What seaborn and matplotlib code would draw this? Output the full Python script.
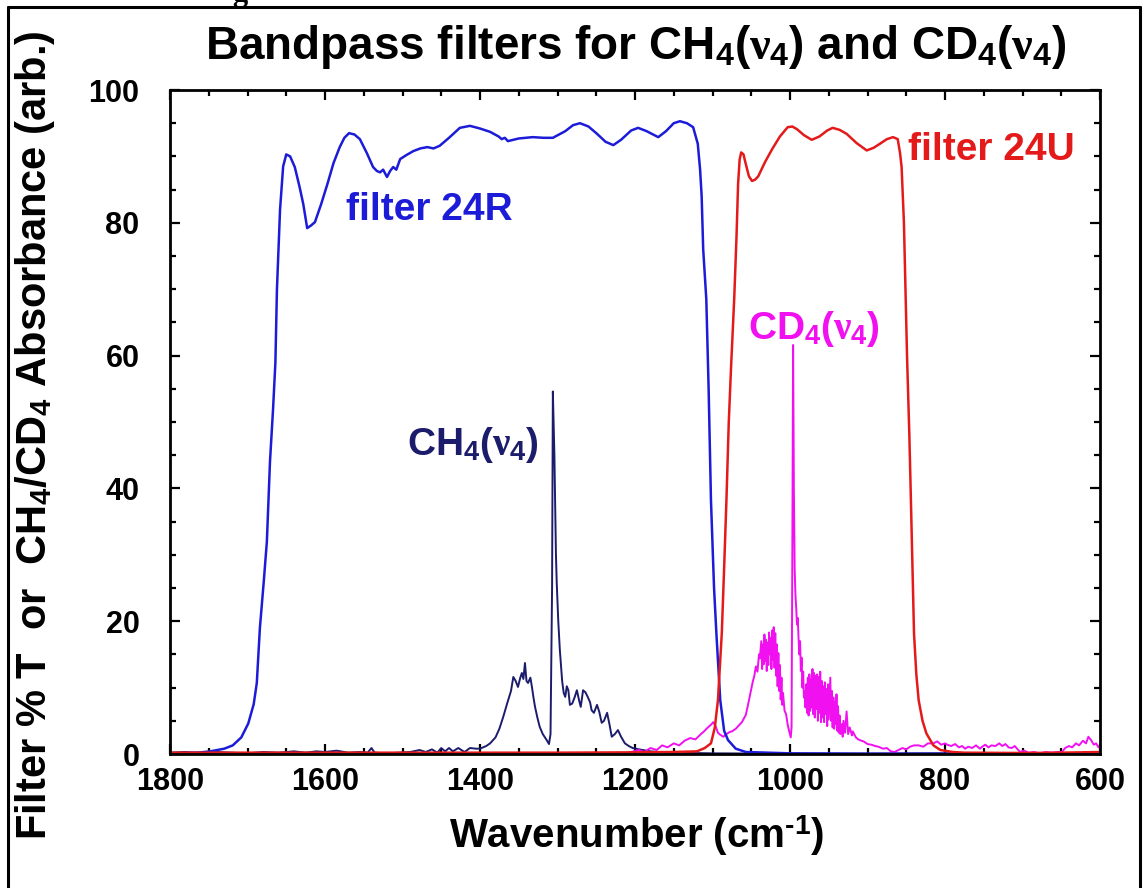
import numpy as np
import pandas as pd
import matplotlib
matplotlib.use("Agg")
import matplotlib.pyplot as plt
from matplotlib.lines import Line2D
from matplotlib.ticker import MultipleLocator
import seaborn as sns

# ---------------- data ----------------
# filter 24R transmission (%)
wn_24r = [1800, 1780, 1760, 1748, 1730, 1719, 1708, 1699, 1692, 1688, 1684, 1679, 1675, 1671,
          1667, 1664, 1662, 1658, 1654, 1650, 1645, 1639, 1633, 1628, 1623, 1618, 1613, 1605,
          1597, 1589, 1581, 1575, 1569, 1562, 1555, 1546, 1538, 1533, 1529, 1525, 1520, 1516,
          1512, 1508, 1503, 1495, 1486, 1477, 1468, 1460, 1452, 1440, 1426, 1413, 1400, 1387,
          1376, 1372, 1368, 1364, 1350, 1332, 1318, 1306, 1290, 1280, 1271, 1260, 1249, 1238,
          1228, 1218, 1205, 1196, 1185, 1170, 1160, 1150, 1142, 1133, 1125, 1119, 1116, 1114,
          1112, 1108, 1105, 1102, 1098, 1095, 1090, 1085, 1080, 1070, 1057, 1000, 900, 800, 700, 600]
t_24r = [0.1, 0.15, 0.25, 0.4, 0.8, 1.3, 2.5, 4.6, 7.5, 10.7, 19, 26, 32, 44,
         52, 59, 70, 82, 88.5, 90.3, 90.0, 88.4, 85.5, 82.8, 79.2, 79.6, 80.1, 82.8,
         85.8, 89.0, 91.4, 92.8, 93.5, 93.3, 92.6, 90.5, 88.4, 87.8, 87.6, 88.0, 86.9, 87.8,
         88.4, 88.0, 89.6, 90.2, 90.8, 91.2, 91.4, 91.2, 91.6, 92.8, 94.3, 94.6, 94.2, 93.7,
         93.0, 92.6, 92.8, 92.3, 92.7, 92.9, 92.8, 92.8, 93.8, 94.7, 95.0, 94.5, 93.4, 92.2,
         91.7, 92.5, 93.9, 94.3, 93.8, 92.9, 93.8, 95.0, 95.3, 95.0, 94.4, 91.9, 88.0, 84.0,
         76.0, 68.5, 55.0, 38.3, 25.0, 18.2, 8.1, 3.5, 2.1, 0.8, 0.3, 0.1, 0.05, 0.05, 0.0, 0.0]

# filter 24U transmission (%)
wn_24u = [1800, 1600, 1400, 1300, 1200, 1150, 1120, 1110, 1102, 1097, 1093, 1088, 1085, 1082,
          1079, 1076, 1072, 1069, 1067, 1065, 1063, 1060, 1058, 1053, 1049, 1045, 1041, 1032,
          1023, 1013, 1003, 997, 991, 982, 972, 962, 952, 945, 936, 927, 914, 901, 892, 884,
          875, 867, 861, 858, 856, 853, 851, 849, 846, 844, 840, 837, 834, 829, 824, 815, 806,
          790, 775, 700, 650, 600]
t_24u = [0.2, 0.2, 0.2, 0.2, 0.25, 0.3, 0.4, 0.9, 1.6, 4.0, 8.1, 18.2, 28.0, 38.3,
         50.0, 58.4, 68.5, 78.0, 85.8, 89.5, 90.6, 90.3, 89.3, 87.0, 86.3, 86.5, 87.0, 89.2,
         91.1, 93.0, 94.4, 94.5, 94.1, 93.2, 92.5, 93.0, 93.9, 94.3, 94.0, 93.4, 92.0, 90.9, 91.3, 91.9,
         92.6, 92.9, 92.6, 90.5, 88.4, 80.0, 70.0, 60.0, 48.0, 38.3, 18.2, 12.0, 8.1, 5.0, 3.1, 1.3, 0.6,
         0.3, 0.2, 0.15, 0.2, 0.3]

# CH4(nu4) absorbance (arb.)
wn_ch4 = [1800, 1780, 1760, 1740, 1720, 1700, 1680, 1660, 1640, 1625, 1611, 1600, 1585, 1570,
          1555, 1545, 1540, 1536, 1520, 1505, 1490, 1478, 1470, 1462, 1455, 1450, 1445, 1440,
          1435, 1428, 1420, 1413, 1405, 1400, 1392, 1387, 1380, 1375, 1370, 1365, 1360, 1357,
          1354, 1351, 1348, 1346, 1344, 1342, 1340, 1338, 1335, 1333, 1331, 1329, 1326, 1323,
          1319, 1314, 1311, 1309, 1307, 1306, 1304, 1302, 1301, 1299, 1297, 1294, 1292, 1290,
          1288, 1286, 1284, 1281, 1278, 1275, 1272, 1270, 1267, 1264, 1261, 1258, 1256, 1253,
          1249, 1246, 1243, 1240, 1236, 1233, 1230, 1226, 1222, 1218, 1213, 1208, 1203, 1195,
          1190, 1180, 1170, 1150, 1100, 1000, 900, 800, 700, 600]
a_ch4 = [0.2, 0.3, 0.1, 0.3, 0.2, 0.1, 0.3, 0.2, 0.4, 0.2, 0.4, 0.3, 0.5, 0.2,
         0.3, 0.2, 0.9, 0.2, 0.1, 0.2, 0.3, 0.6, 0.3, 0.7, 0.2, 0.9, 0.4, 0.9,
         0.4, 0.9, 0.3, 0.9, 0.8, 0.8, 1.2, 1.6, 2.5, 3.8, 5.6, 7.6, 9.5, 11.6,
         11.0, 10.1, 11.5, 12.2, 11.3, 13.7, 11.0, 10.7, 11.5, 10.1, 8.5, 7.1, 5.5, 4.1,
         3.0, 2.1, 1.5, 3.0, 25.0, 54.6, 45.0, 30.0, 25.8, 20.0, 15.7, 11.0, 9.2, 8.6,
         10.2, 9.6, 7.4, 7.6, 8.5, 9.6, 8.0, 7.1, 9.6, 9.3, 8.6, 7.8, 6.6, 6.2,
         7.4, 6.3, 4.7, 5.0, 6.2, 4.5, 2.6, 3.0, 3.6, 2.6, 1.6, 1.2, 0.9, 0.7,
         0.6, 0.4, 0.3, 0.2, 0.1, 0.05, 0.05, 0.1, 0.05, 0.05]

# CD4(nu4) absorbance (arb.)
wn_cd4 = [1280, 1260, 1240, 1220, 1205, 1195, 1188, 1180, 1172, 1165, 1158, 1150, 1143, 1136,
          1129, 1122, 1115, 1111, 1106, 1102, 1099, 1096, 1093, 1090, 1086, 1082, 1078, 1075,
          1070, 1066, 1062, 1057, 1054, 1051, 1048, 1046, 1044, 1042, 1040, 1039, 1037, 1036,
          1035, 1034, 1033, 1032, 1031, 1030, 1029, 1028, 1027, 1026, 1025, 1024, 1023, 1022,
          1021, 1020, 1019, 1018, 1017, 1016, 1015, 1014, 1013, 1012, 1011, 1010, 1009, 1007,
          1005, 1003, 1001, 999, 998, 997, 996, 995, 994, 993, 992, 991, 990, 989, 988, 987,
          986, 985, 984, 983, 982, 981, 980, 979, 978, 977, 976, 975, 974, 973, 972, 971, 970,
          969, 968, 967, 966, 965, 964, 963, 962, 961, 960, 959, 958, 957, 956, 955, 954, 953,
          952, 951, 950, 948, 947, 946, 945, 944, 943, 942, 941, 940, 939, 938, 937, 936, 935,
          933, 932, 931, 929, 927, 925, 923, 920, 919, 915, 912, 908, 905, 900, 895, 890, 886,
          880, 875, 870, 865, 860, 855, 850, 845, 840, 834, 828, 822, 815, 810, 805, 800, 797,
          792, 787, 782, 778, 774, 770, 765, 760, 755, 752, 748, 744, 740, 735, 730, 726, 722,
          718, 714, 710, 707, 703, 698, 692, 685, 678, 670, 662, 655, 649, 645, 640, 636, 631,
          627, 622, 618, 615, 613, 611, 608, 605, 602, 600]
a_cd4 = [0.0, -0.2, 0.1, -0.1, 0.3, 0.6, 0.3, 0.9, 0.6, 1.3, 1.0, 1.6, 1.3, 2.0,
         2.4, 2.2, 3.0, 3.4, 4.0, 4.4, 4.8, 4.2, 3.2, 2.9, 2.6, 3.0, 3.3, 3.4,
         3.8, 4.3, 4.8, 5.9, 7.5, 9.2, 10.9, 11.8, 13.2, 12.4, 15.0, 14.4, 17.0, 12.8,
         16.5, 13.5, 18.0, 14.0, 17.2, 12.5, 16.8, 13.4, 18.3, 15.0, 17.5, 12.8, 18.6, 14.2,
         19.1, 13.0, 18.2, 11.8, 16.5, 10.2, 15.2, 9.5, 13.4, 8.2, 11.5, 7.4, 9.2, 6.5,
         6.0, 4.4, 3.4, 2.5, 4.0, 30.0, 61.6, 40.0, 28.0, 24.0, 22.0, 19.5, 20.5, 17.5, 15.0, 17.0,
         12.5, 14.5, 10.0, 12.4, 8.5, 9.4, 7.0, 10.5, 6.2, 11.5, 5.8, 12.0, 6.5, 11.2, 7.0, 12.8, 6.0,
         12.2, 5.5, 11.8, 6.8, 12.0, 5.0, 11.6, 6.2, 12.4, 4.8, 11.0, 5.5, 10.2, 4.8, 10.8, 6.0, 9.8,
         4.2, 10.5, 5.2, 11.5, 5.0, 9.5, 4.0, 8.5, 3.8, 7.8, 4.5, 9.0, 3.5, 7.2, 3.2, 5.8, 3.0,
         4.5, 2.6, 5.0, 3.2, 6.4, 3.0, 4.0, 2.8, 3.4, 2.5, 2.2, 2.0, 1.9, 1.5, 1.4, 1.2, 1.1,
         0.8, 0.9, 0.4, 0.3, 0.6, 0.9, 0.7, 1.1, 1.3, 1.3, 1.1, 1.6, 1.6, 1.9, 1.4, 1.6, 1.4,
         1.2, 1.5, 1.0, 1.2, 0.8, 1.1, 0.9, 1.3, 0.8, 1.1, 1.4, 1.0, 1.3, 1.2, 1.6, 1.2, 1.5,
         1.0, 0.9, 1.2, 0.8, 0.3, 0.5, 0.2, 0.3, 0.1, 0.3, 0.2, 0.3, 0.3, 0.9, 1.2, 1.0, 1.6,
         1.3, 2.0, 1.6, 2.6, 2.3, 2.0, 1.4, 1.6, 1.0, 1.3]

x_ticks = [1800, 1600, 1400, 1200, 1000, 800, 600]
y_ticks = [0, 20, 40, 60, 80, 100]

# ---------------- style ----------------
sns.set_theme(style="ticks")
plt.rcParams["font.family"] = ["Liberation Sans", "DejaVu Sans"]
plt.rcParams["font.weight"] = "bold"
plt.rcParams["text.color"] = "black"
plt.rcParams["axes.labelcolor"] = "black"
plt.rcParams["xtick.color"] = "black"
plt.rcParams["ytick.color"] = "black"
plt.rcParams["mathtext.fontset"] = "custom"
plt.rcParams["mathtext.rm"] = "Liberation Sans:bold"
plt.rcParams["mathtext.bf"] = "Liberation Sans:bold"
plt.rcParams["mathtext.it"] = "Liberation Serif"
plt.rcParams["mathtext.sf"] = "Liberation Sans:bold"

C_BLUE = "#1c1cd8"
C_RED = "#e41a1a"
C_NAVY = "#1c1c6c"
C_MAG = "#f010f0"

fig = plt.figure(figsize=(11.44, 8.88), dpi=100)
fig.patch.set_facecolor("white")
ax = fig.add_axes([170 / 1144, 1 - 754 / 888, 930 / 1144, 664 / 888])
ax.set_facecolor("white")

df_r = pd.DataFrame({"wn": wn_24r, "val": t_24r})
df_u = pd.DataFrame({"wn": wn_24u, "val": t_24u})
df_h = pd.DataFrame({"wn": wn_ch4, "val": a_ch4})
df_d = pd.DataFrame({"wn": wn_cd4, "val": a_cd4})

kw = dict(x="wn", y="val", ax=ax, estimator=None, sort=False, legend=False)
sns.lineplot(data=df_h, color=C_NAVY, lw=1.4, **kw)
sns.lineplot(data=df_d, color=C_MAG, lw=1.4, **kw)
sns.lineplot(data=df_r, color=C_BLUE, lw=1.8, **kw)
sns.lineplot(data=df_u, color=C_RED, lw=1.8, **kw)

ax.set_xlim(1800, 600)
ax.set_ylim(0, 100)
ax.set_xticks(x_ticks)
ax.set_yticks(y_ticks)
ax.set_xticklabels([str(v) for v in x_ticks])
ax.set_yticklabels([str(v) for v in y_ticks])
ax.xaxis.set_minor_locator(MultipleLocator(50))
ax.yaxis.set_minor_locator(MultipleLocator(5))
ax.set_xlabel("")
ax.set_ylabel("")

for s in ax.spines.values():
    s.set_visible(True)
    s.set_linewidth(2.0)
    s.set_color("black")
ax.tick_params(which="both", direction="in", top=True, right=True, colors="black", width=1.6)
ax.tick_params(which="major", length=7)
ax.tick_params(which="minor", length=4)
ax.tick_params(axis="x", which="major", labelsize=22, pad=9)
ax.tick_params(axis="y", which="major", labelsize=22, pad=22)
for lab in ax.get_xticklabels() + ax.get_yticklabels():
    lab.set_fontweight("bold")
    lab.set_color("black")

# annotations
ax.text(1465, 82, "filter 24R", color=C_BLUE, fontsize=28, fontweight="bold", ha="center", va="center")
ax.text(848, 91, "filter 24U", color=C_RED, fontsize=28, fontweight="bold", ha="left", va="center")
ax.text(1494, 46.5, r"CH$_4$($\nu_4$)", color=C_NAVY, fontsize=28, fontweight="bold", ha="left", va="center")
ax.text(1054, 64, r"CD$_4$($\nu_4$)", color=C_MAG, fontsize=28, fontweight="bold", ha="left", va="center")

# titles / labels
fig.text(636 / 1144, 1 - 47 / 888, r"Bandpass filters for CH$_4$($\nu_4$) and CD$_4$($\nu_4$)",
         fontsize=33, fontweight="bold", ha="center", va="center", color="black")
fig.text(637 / 1144, 1 - 836 / 888, r"Wavenumber (cm$^{\text{-}1}$)",
         fontsize=29, fontweight="bold", ha="center", va="center", color="black")
fig.text(35 / 1144, 1 - 435 / 888, r"Filter % T  or  CH$_4$/CD$_4$ Absorbance (arb.)",
         fontsize=30, fontweight="bold", ha="center", va="center", rotation=90, color="black")

# outer frame of the figure image
lw_frame = 2.2
fig.add_artist(Line2D([8 / 1144, 8 / 1144], [0, 1 - 7 / 888], transform=fig.transFigure, color="black", lw=lw_frame))
fig.add_artist(Line2D([1140 / 1144, 1140 / 1144], [0, 1 - 7 / 888], transform=fig.transFigure, color="black", lw=lw_frame))
fig.add_artist(Line2D([8 / 1144, 1140 / 1144], [1 - 7 / 888, 1 - 7 / 888], transform=fig.transFigure, color="black", lw=lw_frame))
# clipped heading fragment above the frame (only its descender shows, as in the reference)
fig.text(240 / 1144, 1 - 1 / 888, "g", fontsize=22, fontweight="bold", family="Liberation Serif",
         ha="center", va="baseline", color="black")

fig.savefig("out.png", dpi=100, facecolor="white")
